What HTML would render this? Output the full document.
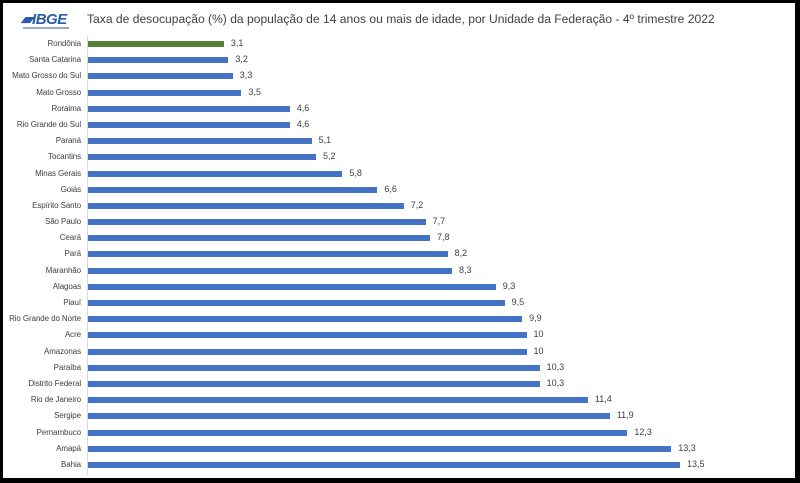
<!DOCTYPE html>
<html><head><meta charset="utf-8"><style>
body{margin:0;background:#000;}
#w{position:absolute;left:3px;top:3px;width:792px;height:475px;background:#fff;font-family:"Liberation Sans",sans-serif;}
.l{position:absolute;right:714px;font-size:8px;color:#404040;white-space:nowrap;letter-spacing:-0.1px;}
.b{position:absolute;left:85px;height:6px;background:#4472c4;}
.v{position:absolute;font-size:9px;color:#404040;}
</style></head><body>
<div id="w">
<div style="position:absolute;left:18px;top:7px;font:italic bold 15px 'Liberation Sans',sans-serif;color:#2a5caa;letter-spacing:-0.5px">▰IBGE</div>
<div style="position:absolute;left:20px;top:24px;width:46px;height:2px;background:#9ab"></div>
<div style="position:absolute;left:84px;top:9px;font-size:12.1px;color:#404040">Taxa de desocupação (%) da população de 14 anos ou mais de idade, por Unidade da Federação - 4º trimestre 2022</div>
<div style="position:absolute;left:84px;top:32px;width:1px;height:440px;background:#d9d9d9"></div>
<div id="c"></div>
</div>
<script>
var d=[["Rondônia",3.1],["Santa Catarina",3.2],["Mato Grosso do Sul",3.3],["Mato Grosso",3.5],["Roraima",4.6],["Rio Grande do Sul",4.6],["Paraná",5.1],["Tocantins",5.2],["Minas Gerais",5.8],["Goiás",6.6],["Espírito Santo",7.2],["São Paulo",7.7],["Ceará",7.8],["Pará",8.2],["Maranhão",8.3],["Alagoas",9.3],["Piauí",9.5],["Rio Grande do Norte",9.9],["Acre",10],["Amazonas",10],["Paraíba",10.3],["Distrito Federal",10.3],["Rio de Janeiro",11.4],["Sergipe",11.9],["Pernambuco",12.3],["Amapá",13.3],["Bahia",13.5]];
var h="";d.forEach(function(r,i){var y=41+i*16.19;var w=r[1]*43.85;
h+='<div class="l" style="top:'+(y-5)+'px">'+r[0]+'</div>';
h+='<div class="b" style="top:'+(y-3)+'px;width:'+w+'px;'+(i==0?'background:#548235':'')+'"></div>';
h+='<div class="v" style="top:'+(y-6)+'px;left:'+(85+w+7)+'px">'+String(r[1]).replace('.',',')+'</div>';});
document.getElementById("c").innerHTML=h;
</script>
</body></html>
